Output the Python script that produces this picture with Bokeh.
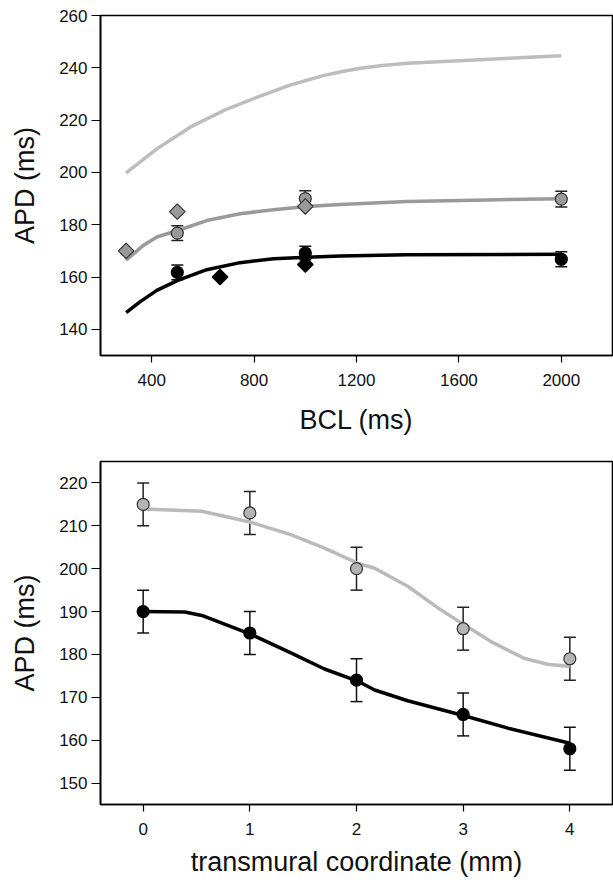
from bokeh.plotting import figure
from bokeh.models import Range1d, FixedTicker, ColumnDataSource, Whisker, TeeHead
from bokeh.layouts import column
from bokeh.embed import file_html
from bokeh.resources import INLINE

# ---------------- Top panel data (APD vs BCL) ----------------
bcl_ticks = [400, 800, 1200, 1600, 2000]
apd_top_ticks = [140, 160, 180, 200, 220, 240, 260]

light_curve_x = [300, 420, 550, 680, 810, 940, 1070, 1140, 1215, 1300, 1400, 1660, 2000]
light_curve_y = [199.8, 209.0, 217.3, 223.6, 228.7, 233.4, 237.0, 238.5, 239.8, 240.9, 241.7, 243.0, 244.6]

mid_curve_x = [300, 367, 420, 502, 615, 745, 876, 1006, 1137, 1398, 1711, 2000]
mid_curve_y = [166.4, 172.1, 175.3, 177.8, 181.6, 184.2, 185.7, 187.0, 187.7, 188.9, 189.5, 189.9]

black_curve_x = [300, 354, 420, 502, 615, 745, 876, 1006, 1137, 1398, 2000]
black_curve_y = [146.4, 150.5, 154.9, 158.7, 162.8, 165.5, 167.0, 167.6, 168.0, 168.5, 168.7]

gray_circ_x = [500, 1000, 2000]
gray_circ_y = [176.8, 190.0, 189.8]
gray_circ_err = [2.8, 3.0, 3.0]

gray_diam_x = [300, 500, 1000]
gray_diam_y = [170.0, 185.0, 187.0]

black_circ_x = [500, 1000, 2000]
black_circ_y = [161.8, 169.2, 166.8]
black_circ_err = [2.8, 2.6, 2.9]

black_diam_x = [667, 1000]
black_diam_y = [160.0, 164.8]

# ---------------- Bottom panel data (APD vs transmural coordinate) ----------------
tc_ticks = [0, 1, 2, 3, 4]
apd_bot_ticks = [150, 160, 170, 180, 190, 200, 210, 220]

tc_pts = [0, 1, 2, 3, 4]
gray_pts = [215, 213, 200, 186, 179]
gray_err = [5, 5, 5, 5, 5]
black_pts = [190, 185, 174, 166, 158]
black_err = [5, 5, 5, 5, 5]

gray_fit_x = [0, 0.55, 1.0, 1.39, 1.70, 2.01, 2.17, 2.48, 2.79, 3.01, 3.26, 3.57, 3.79, 4.0]
gray_fit_y = [213.9, 213.4, 210.9, 207.9, 204.8, 201.3, 200.1, 195.9, 190.4, 186.9, 183.0, 179.1, 177.7, 177.2]

black_fit_x = [0, 0.39, 0.55, 1.0, 1.39, 1.70, 2.01, 2.17, 2.48, 3.01, 3.42, 4.0]
black_fit_y = [190.0, 189.9, 189.1, 184.8, 180.3, 176.6, 173.8, 171.7, 169.2, 165.7, 162.8, 159.3]

FONT = "Liberation Sans"
TICK_PX = "17px"
TITLE_PX = "27px"


def style(p, title_standoff):
    p.grid.visible = False
    p.outline_line_color = "black"
    p.outline_line_width = 1.6
    p.background_fill_color = "white"
    p.border_fill_color = "white"
    for ax in (p.xaxis[0], p.yaxis[0]):
        ax.axis_line_color = "black"
        ax.axis_line_width = 1.6
        ax.major_tick_line_color = "black"
        ax.major_tick_line_width = 1.2
        ax.major_tick_in = 0
        ax.minor_tick_line_color = None
        ax.major_label_text_font = FONT
        ax.major_label_text_font_size = TICK_PX
        ax.major_label_text_color = "#111111"
        ax.axis_label_text_font = FONT
        ax.axis_label_text_font_size = TITLE_PX
        ax.axis_label_text_font_style = "normal"
        ax.axis_label_text_color = "#111111"
    p.yaxis[0].major_tick_out = 9
    p.yaxis[0].major_label_standoff = 4
    p.yaxis[0].axis_label_standoff = 16
    p.xaxis[0].major_tick_out = 7
    p.xaxis[0].major_label_standoff = 11
    p.xaxis[0].axis_label_standoff = title_standoff


def errbars(p, xs, ys, errs, color):
    src = ColumnDataSource(dict(x=xs, up=[y + e for y, e in zip(ys, errs)],
                                lo=[y - e for y, e in zip(ys, errs)]))
    w = Whisker(source=src, base="x", upper="up", lower="lo",
                line_color=color, line_width=1.5,
                upper_head=TeeHead(size=12, line_color=color, line_width=1.5),
                lower_head=TeeHead(size=12, line_color=color, line_width=1.5))
    p.add_layout(w)


# ---------------- Top figure ----------------
p1 = figure(width=613, height=440, output_backend="svg", toolbar_location=None,
            x_range=Range1d(200, 2200), y_range=Range1d(130, 260),
            min_border_left=100, min_border_right=1, min_border_top=15, min_border_bottom=85,
            x_axis_label="BCL (ms)", y_axis_label="APD (ms)")
style(p1, 16)
p1.xaxis[0].ticker = FixedTicker(ticks=bcl_ticks)
p1.yaxis[0].ticker = FixedTicker(ticks=apd_top_ticks)

p1.line(light_curve_x, light_curve_y, line_color="#bdbdbd", line_width=3.5)
p1.line(mid_curve_x, mid_curve_y, line_color="#9a9a9a", line_width=3.5)
p1.line(black_curve_x, black_curve_y, line_color="black", line_width=3.5)

errbars(p1, gray_circ_x, gray_circ_y, gray_circ_err, "#222222")
errbars(p1, black_circ_x, black_circ_y, black_circ_err, "#111111")

p1.scatter(gray_circ_x, gray_circ_y, marker="circle", size=12,
           fill_color="#999999", line_color="#333333", line_width=1.2)
p1.scatter(black_circ_x, black_circ_y, marker="circle", size=12,
           fill_color="black", line_color="black", line_width=1.2)
p1.scatter(gray_diam_x, gray_diam_y, marker="square", size=11, angle=0.7854,
           fill_color="#999999", line_color="#333333", line_width=1.2)
p1.scatter(black_diam_x, black_diam_y, marker="square", size=11, angle=0.7854,
           fill_color="black", line_color="black", line_width=1.2)

# ---------------- Bottom figure ----------------
p2 = figure(width=613, height=446, output_backend="svg", toolbar_location=None,
            x_range=Range1d(-0.4, 4.4), y_range=Range1d(145, 225),
            min_border_left=100, min_border_right=1, min_border_top=21, min_border_bottom=82,
            x_axis_label="transmural coordinate (mm)", y_axis_label="APD (ms)")
style(p2, 9)
p2.xaxis[0].ticker = FixedTicker(ticks=tc_ticks)
p2.yaxis[0].ticker = FixedTicker(ticks=apd_bot_ticks)

p2.line(gray_fit_x, gray_fit_y, line_color="#bababa", line_width=3.5)
p2.line(black_fit_x, black_fit_y, line_color="black", line_width=3.5)

errbars(p2, tc_pts, gray_pts, gray_err, "#222222")
errbars(p2, tc_pts, black_pts, black_err, "#111111")

p2.scatter(tc_pts, gray_pts, marker="circle", size=12,
           fill_color="#b4b4b4", line_color="#333333", line_width=1.2)
p2.scatter(tc_pts, black_pts, marker="circle", size=12,
           fill_color="black", line_color="black", line_width=1.2)

layout = column(p1, p2, spacing=0)
open("out.html", "w").write(file_html(layout, INLINE))
